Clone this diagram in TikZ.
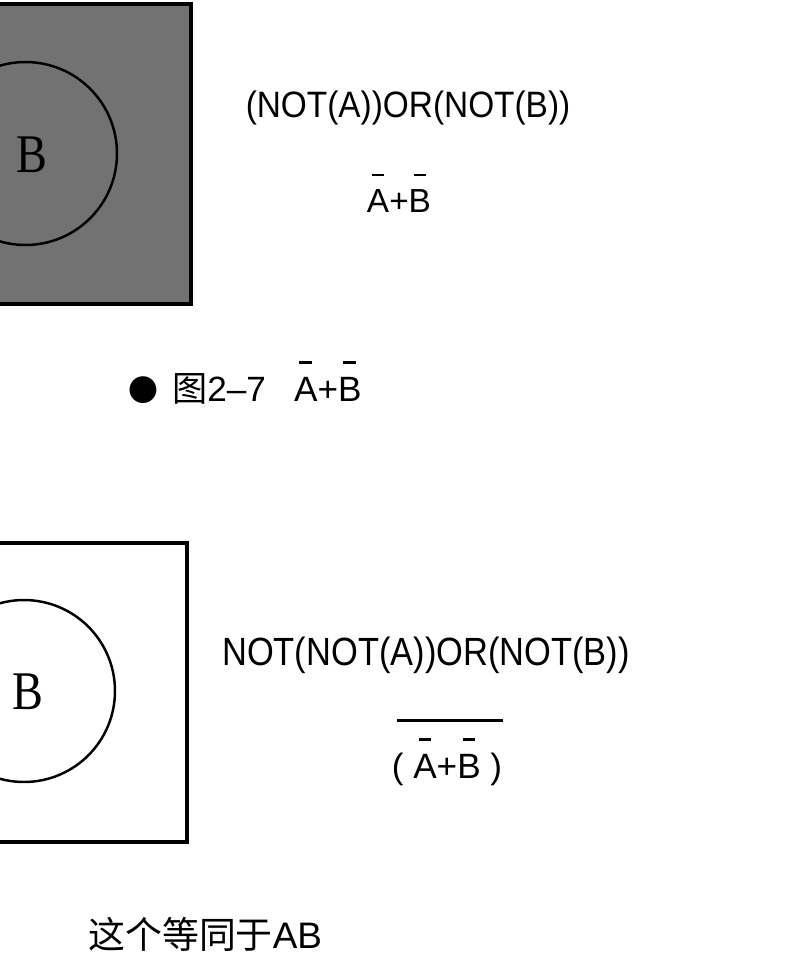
\documentclass[tikz,border=0pt]{standalone}
\usepackage{fontspec}
\usepackage{tikz}
\setmainfont{Liberation Serif}
\newfontfamily\labelfont{Liberation Sans}
\newfontfamily\cjkfont{Noto Sans CJK SC}
\usetikzlibrary{positioning, calc}
\definecolor{venngray}{HTML}{727272}

% short bar over a single letter (NOT)
\newsavebox\ovbox
\newcommand{\negbar}[1]{\sbox\ovbox{#1}\rlap{\hbox to \wd\ovbox{\hss\rule[1.55\ht\ovbox]{0.55\wd\ovbox}{1.2pt}\hss}}\usebox\ovbox}

\begin{document}
\begin{tikzpicture}[x=0.02cm, y=-0.02cm,
  frame/.style={line width=1.9pt},
  ring/.style={line width=1.4pt},
  setlabel/.style={font=\fontsize{31}{31}\selectfont\rmfamily, inner sep=0pt},
  expr/.style={font=\fontsize{19}{19}\selectfont\labelfont, inner sep=0pt, anchor=base},
  caption/.style={font=\fontsize{20}{20}\selectfont, inner sep=0pt, anchor=base west}]

\clip (0,0) rectangle (804,958);
\fill[white] (0,0) rectangle (804,958);

% top: complement of AB, shaded
\draw[frame, fill=venngray] (-109,4) rectangle (191,304);
\draw[ring] (25.5,153.5) circle (1.83cm);
\node[setlabel] (b1) at (32,155) {\scalebox{0.85}[1]{B}};

\node[expr] (t1) at (408,117) {\scalebox{1}[1.1]{(NOT(A))OR(NOT(B))}};
\node[expr] (e1) at (399,212) {\negbar{A}+\negbar{B}};

\node[caption] (cap1) at (128,401) {{\cjkfont\fontsize{17}{17}\selectfont ●}\hspace{8pt}{\cjkfont 图}{\labelfont 2–7}\hspace{16pt}{\labelfont\negbar{A}+\negbar{B}}};

% bottom: AB, unshaded
\draw[frame] (-112,543) rectangle (187,842);
\draw[ring] (24,691) circle (1.82cm);
\node[setlabel] (b2) at (28,692) {\scalebox{0.85}[1]{B}};

\node[expr, font=\fontsize{20}{20}\selectfont\labelfont] (t2) at (426,665) {\scalebox{0.98}[1.12]{NOT(NOT(A))OR(NOT(B))}};
\node[expr, font=\fontsize{20}{20}\selectfont\labelfont] (e2) at (447,778) {( \negbar{A}+\negbar{B} )};
\draw[line width=1.2pt] ([xshift=3pt, yshift=10pt]e2.north west) -- ([yshift=10pt]e2.north east);

\node[caption, font=\fontsize{21}{21}\selectfont] (cap2) at (88,948) {{\cjkfont 这个等同于}{\labelfont AB}};
\end{tikzpicture}
\end{document}
